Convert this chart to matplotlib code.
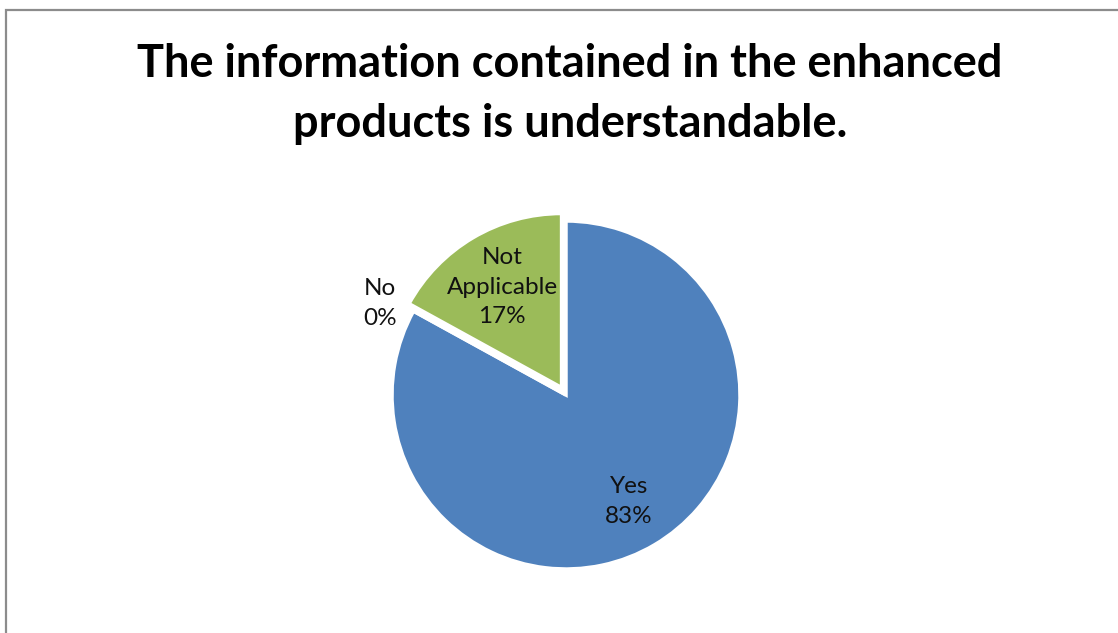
import numpy as np
import matplotlib.pyplot as plt
from matplotlib.patches import Rectangle

plt.rcParams['font.family'] = ['Lato', 'DejaVu Sans']

# survey answers
labels = ['Yes', 'No', 'Not\nApplicable']
shares = [83, 0, 17]
colors = ['#4F81BD', '#C0504D', '#9BBB59']
explode = [0, 0, 0.05]
title = 'The information contained in the enhanced\nproducts is understandable.'

W, H = 1118, 633
fig = plt.figure(figsize=(W / 100, H / 100), dpi=100)

# gray frame around the chart area
fig.patches.append(Rectangle((6 / W, -0.1), 1.2, (H - 10) / H + 0.1,
                             transform=fig.transFigure, fill=False,
                             edgecolor='#8c8c8c', linewidth=1.6))

fig.text(570 / W, 1 - 94 / H, title, ha='center', va='center',
         fontsize=32.5, fontweight='bold', linespacing=1.55)

# pie centre at (566, 395) px, radius 174 px
r = 174
half = 200
ax = fig.add_axes([(566 - half) / W, (H - 395 - half) / H, 2 * half / W, 2 * half / H])
ax.axis('off')

wedges, _ = ax.pie(shares, colors=colors, explode=explode, startangle=90,
                   counterclock=False, radius=1,
                   wedgeprops=dict(edgecolor='white', linewidth=2.5))
ax.set_xlim(-half / r, half / r)
ax.set_ylim(-half / r, half / r)
ax.set_aspect('equal')

dist = [0.71, 1.19, 0.67]
for w, lab, val, d, ex in zip(wedges, labels, shares, dist, explode):
    ang = np.deg2rad((w.theta1 + w.theta2) / 2)
    if lab == 'No':
        ang = np.deg2rad(153.7)
    x = (d + ex) * np.cos(ang)
    y = (d + ex) * np.sin(ang)
    ax.text(x, y, f'{lab}\n{val}%', ha='center', va='center',
            fontsize=17.5, color='#111111', linespacing=1.5)

fig.savefig('out.png', dpi=100)
